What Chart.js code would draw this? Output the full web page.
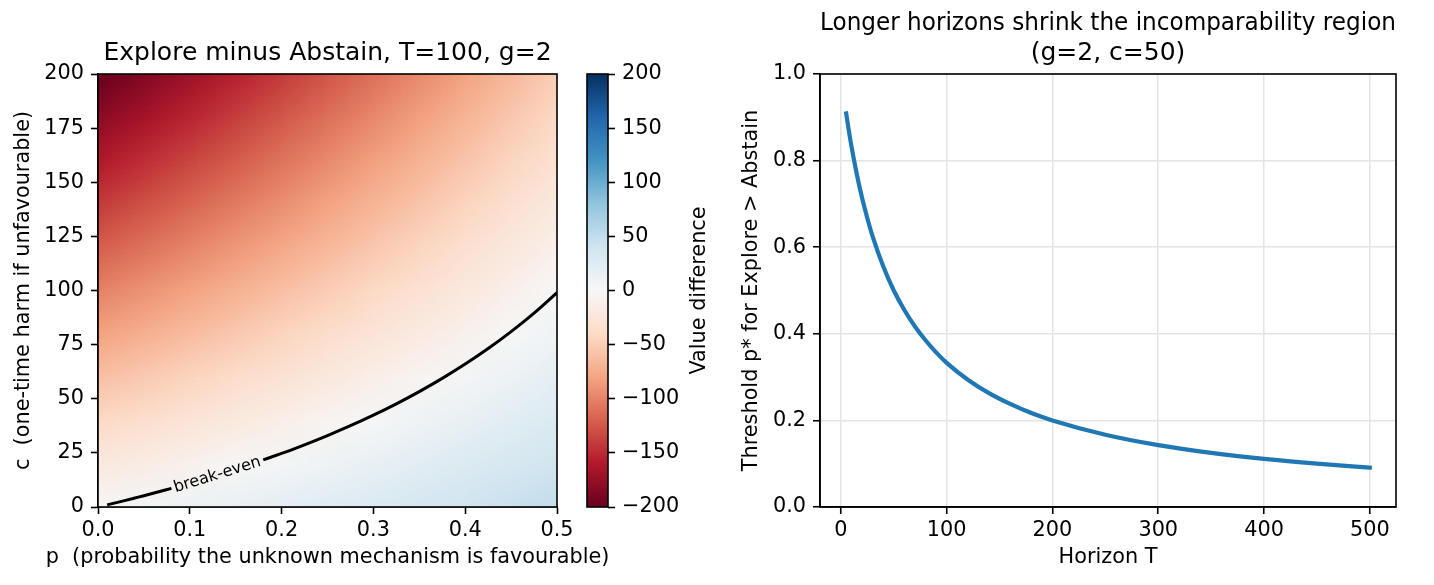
<!DOCTYPE html>
<html><head><meta charset="utf-8">
<script src="https://cdn.jsdelivr.net/npm/chart.js@4.4.1/dist/chart.umd.min.js"></script>
<style>
html,body{margin:0;padding:0;background:#fff;width:1434px;height:585px;overflow:hidden;}
canvas{position:absolute;top:0;}
</style></head><body>
<canvas id="heat" width="640" height="585" style="left:0px;width:640px;height:585px"></canvas>
<canvas id="cbar" width="140" height="585" style="left:580px;width:140px;height:585px"></canvas>
<canvas id="line" width="714" height="585" style="left:720px;width:714px;height:585px"></canvas>
<script>
// ---------- data ----------
const pGrid = [0, 0.05, 0.1, 0.15, 0.2, 0.25, 0.3, 0.35, 0.4, 0.45, 0.5];
const cGrid = [0, 20, 40, 60, 80, 100, 120, 140, 160, 180, 200];
// Explore minus Abstain value difference; one row per c (ascending), one column per p
const diffRows = [
  [0, 5, 10, 15, 20, 25, 30, 35, 40, 45, 50],
  [-20, -14, -8, -2, 4, 10, 16, 22, 28, 34, 40],
  [-40, -33, -26, -19, -12, -5, 2, 9, 16, 23, 30],
  [-60, -52, -44, -36, -28, -20, -12, -4, 4, 12, 20],
  [-80, -71, -62, -53, -44, -35, -26, -17, -8, 1, 10],
  [-100, -90, -80, -70, -60, -50, -40, -30, -20, -10, 0],
  [-120, -109, -98, -87, -76, -65, -54, -43, -32, -21, -10],
  [-140, -128, -116, -104, -92, -80, -68, -56, -44, -32, -20],
  [-160, -147, -134, -121, -108, -95, -82, -69, -56, -43, -30],
  [-180, -166, -152, -138, -124, -110, -96, -82, -68, -54, -40],
  [-200, -185, -170, -155, -140, -125, -110, -95, -80, -65, -50]
];
// break-even contour (gap where the inline label sits)
const breakP = [0.01, 0.02, 0.03, 0.04, 0.05, 0.06, 0.08, 0.13, 0.18, 0.2, 0.22, 0.25, 0.275, 0.3, 0.325, 0.35, 0.375, 0.4, 0.425, 0.45, 0.475, 0.5];
const breakC = [1.0, 2.02, 3.06, 4.13, 5.21, 6.32, 8.61, null, 21.73, 24.75, 27.92, 33.0, 37.55, 42.43, 47.67, 53.31, 59.4, 66.0, 73.17, 81.0, 89.57, 99.0];
const breakLabel = {text: 'break-even', p: 0.13, c: 14.8};

// threshold curve
const horizonT = [5, 7, 10, 15, 20, 25, 30, 40, 50, 60, 70, 80, 90, 100, 120, 140, 160, 180, 200, 250, 300, 350, 400, 450, 500];
const thresholdP = [0.909, 0.877, 0.833, 0.769, 0.714, 0.667, 0.625, 0.556, 0.5, 0.455, 0.417, 0.385, 0.357, 0.333, 0.294, 0.263, 0.238, 0.217, 0.2, 0.167, 0.143, 0.125, 0.111, 0.1, 0.091];

// tick labels
const heatXTicks = [0, 0.1, 0.2, 0.3, 0.4, 0.5];
const heatYTicks = [0, 25, 50, 75, 100, 125, 150, 175, 200];
const cbarTicks = [-200, -150, -100, -50, 0, 50, 100, 150, 200];
const lineXTicks = [0, 100, 200, 300, 400, 500];
const lineYTicks = [0, 0.2, 0.4, 0.6, 0.8, 1.0];

const heatXLabel = 'p  (probability the unknown mechanism is favourable)';

// ---------- styling ----------
const FONT = 'DejaVu Sans';
const FS = 20.8;
Chart.defaults.font.family = FONT;
Chart.defaults.font.size = FS;
Chart.defaults.color = '#000';
Chart.defaults.animation = false;

const VMIN = -200, VMAX = 200;
const RDBU = [[103,0,31],[178,24,43],[214,96,77],[244,165,130],[253,219,199],[247,247,247],[209,229,240],[146,197,222],[67,147,195],[33,102,172],[5,48,97]];
function cmap(v){
  let t = (v - VMIN) / (VMAX - VMIN);
  t = Math.max(0, Math.min(1, t));
  const s = t * 10;
  const i = Math.min(9, Math.floor(s));
  const f = s - i;
  const a = RDBU[i], b = RDBU[i + 1];
  return [a[0] + (b[0] - a[0]) * f, a[1] + (b[1] - a[1]) * f, a[2] + (b[2] - a[2]) * f];
}
const fixTicks = arr => (scale) => { scale.ticks = arr.map(v => ({value: v})); };
const minus = s => String(s).replace('-', '\u2212');

const frame = {
  id: 'frame',
  afterDraw(chart){
    const {ctx, chartArea: a} = chart;
    ctx.save();
    ctx.strokeStyle = '#000';
    ctx.lineWidth = 1.6;
    ctx.strokeRect(a.left, a.top, a.right - a.left, a.bottom - a.top);
    ctx.restore();
  }
};

const heatmap = {
  id: 'heatmap',
  beforeDatasetsDraw(chart){
    const {ctx, chartArea: a, scales: {x, y}} = chart;
    const nx = pGrid.length, ny = cGrid.length;
    const off = document.createElement('canvas');
    off.width = nx; off.height = ny;
    const octx = off.getContext('2d');
    const img = octx.createImageData(nx, ny);
    for (let r = 0; r < ny; r++) {
      const row = diffRows[ny - 1 - r];
      for (let k = 0; k < nx; k++) {
        const col = cmap(row[k]);
        const idx = (r * nx + k) * 4;
        img.data[idx] = Math.round(col[0]);
        img.data[idx + 1] = Math.round(col[1]);
        img.data[idx + 2] = Math.round(col[2]);
        img.data[idx + 3] = 255;
      }
    }
    octx.putImageData(img, 0, 0);
    const dp = (pGrid[1] - pGrid[0]) / 2, dc = (cGrid[1] - cGrid[0]) / 2;
    const x0 = x.getPixelForValue(pGrid[0] - dp), x1 = x.getPixelForValue(pGrid[nx - 1] + dp);
    const y0 = y.getPixelForValue(cGrid[ny - 1] + dc), y1 = y.getPixelForValue(cGrid[0] - dc);
    ctx.save();
    ctx.beginPath();
    ctx.rect(a.left, a.top, a.right - a.left, a.bottom - a.top);
    ctx.clip();
    ctx.imageSmoothingEnabled = true;
    ctx.imageSmoothingQuality = 'low';
    ctx.drawImage(off, x0, y0, x1 - x0, y1 - y0);
    ctx.restore();
  },
  afterDatasetsDraw(chart){
    const {ctx, scales: {x, y}} = chart;
    const i0 = breakC.indexOf(null);
    const ax = x.getPixelForValue(breakP[i0 - 1]), ay = y.getPixelForValue(breakC[i0 - 1]);
    const bx = x.getPixelForValue(breakP[i0 + 1]), by = y.getPixelForValue(breakC[i0 + 1]);
    const ang = Math.atan2(by - ay, bx - ax);
    ctx.save();
    ctx.translate(x.getPixelForValue(breakLabel.p), y.getPixelForValue(breakLabel.c));
    ctx.rotate(ang);
    ctx.font = '16px "DejaVu Sans"';
    ctx.fillStyle = '#000';
    ctx.textAlign = 'center';
    ctx.textBaseline = 'middle';
    ctx.fillText(breakLabel.text, 0, 0);
    ctx.restore();
  },
  afterDraw(chart){
    // x-axis label (wider than the axes, so drawn unconstrained, centred under the axes)
    const {ctx, chartArea: a} = chart;
    ctx.save();
    ctx.font = FS + 'px "DejaVu Sans"';
    ctx.fillStyle = '#000';
    ctx.textAlign = 'center';
    ctx.textBaseline = 'middle';
    ctx.fillText(heatXLabel, (a.left + a.right) / 2, 557.8);
    ctx.restore();
  }
};

const tickGrid = {drawOnChartArea: false, drawTicks: true, tickLength: 7, tickColor: '#000', tickWidth: 1.6};
const border = {display: true, color: '#000', width: 1.6};

// ---------- left: heatmap ----------
new Chart(document.getElementById('heat'), {
  type: 'line',
  data: {
    datasets: [{
      data: breakP.map((p, i) => ({x: p, y: breakC[i]})),
      borderColor: '#000', borderWidth: 3, pointRadius: 0,
      spanGaps: false, cubicInterpolationMode: 'monotone', fill: false
    }]
  },
  options: {
    responsive: false,
    layout: {padding: {left: 0, right: 83, top: 0, bottom: 0}},
    plugins: {
      legend: {display: false}, tooltip: {enabled: false},
      title: {display: true, fullSize: false, text: 'Explore minus Abstain, T=100, g=2', color: '#000',
        font: {size: 25, weight: 'normal', lineHeight: 1.2}, padding: {top: 38, bottom: 6}}
    },
    scales: {
      x: {
        type: 'linear', position: 'bottom', min: 0, max: 0.5,
        afterBuildTicks: fixTicks(heatXTicks),
        afterFit: s => { s.height = 78; },
        ticks: {padding: 4, callback: v => Number(v).toFixed(1), maxRotation: 0, autoSkip: false},
        grid: tickGrid, border: border,
        title: {display: false}
      },
      y: {
        type: 'linear', position: 'left', min: 0, max: 200,
        afterBuildTicks: fixTicks(heatYTicks),
        afterFit: s => { s.width = 98; },
        ticks: {padding: 7, autoSkip: false},
        grid: tickGrid, border: border,
        title: {display: true, text: 'c  (one-time harm if unfavourable)', padding: {top: 11, bottom: 0}}
      }
    }
  },
  plugins: [heatmap, frame]
});

// ---------- colorbar ----------
const colorbar = {
  id: 'colorbar',
  beforeDatasetsDraw(chart){
    const {ctx, chartArea: a, scales: {y}} = chart;
    const g = ctx.createLinearGradient(0, y.getPixelForValue(VMIN), 0, y.getPixelForValue(VMAX));
    RDBU.forEach((c, i) => g.addColorStop(i / (RDBU.length - 1), `rgb(${c[0]},${c[1]},${c[2]})`));
    ctx.save();
    ctx.fillStyle = g;
    ctx.fillRect(a.left, a.top, a.right - a.left, a.bottom - a.top);
    ctx.restore();
  },
  afterDraw(chart){
    const {ctx, chartArea: a} = chart;
    ctx.save();
    ctx.font = FS + 'px "DejaVu Sans"';
    ctx.fillStyle = '#000';
    ctx.textAlign = 'center';
    ctx.textBaseline = 'alphabetic';
    ctx.translate(125, (a.top + a.bottom) / 2);
    ctx.rotate(-Math.PI / 2);
    ctx.fillText('Value difference', 0, 0);
    ctx.restore();
  }
};
new Chart(document.getElementById('cbar'), {
  type: 'scatter',
  data: {datasets: [{data: []}]},
  options: {
    responsive: false,
    layout: {padding: {left: 7, right: 0, top: 74, bottom: 78}},
    plugins: {legend: {display: false}, tooltip: {enabled: false}},
    scales: {
      x: {display: false},
      y: {
        type: 'linear', position: 'right', min: VMIN, max: VMAX,
        afterBuildTicks: fixTicks(cbarTicks),
        afterFit: s => { s.width = 112; },
        ticks: {padding: 7, autoSkip: false, callback: v => minus(v)},
        grid: tickGrid, border: {display: false}
      }
    }
  },
  plugins: [colorbar, frame]
});

// ---------- right: threshold vs horizon ----------
new Chart(document.getElementById('line'), {
  type: 'line',
  data: {
    datasets: [{
      data: horizonT.map((t, i) => ({x: t, y: thresholdP[i]})),
      borderColor: '#1f77b4', borderWidth: 4.2, pointRadius: 0,
      cubicInterpolationMode: 'monotone', fill: false, borderCapStyle: 'square'
    }]
  },
  options: {
    responsive: false,
    layout: {padding: {left: 0, right: 38, top: 0, bottom: 0}},
    plugins: {
      legend: {display: false}, tooltip: {enabled: false},
      title: {display: true, fullSize: false,
        text: ['Longer horizons shrink the incomparability region', '(g=2, c=50)'], color: '#000',
        font: {size: 25, weight: 'normal', lineHeight: 1.2}, padding: {top: 8, bottom: 6}}
    },
    scales: {
      x: {
        type: 'linear', position: 'bottom', min: -19.75, max: 524.75,
        afterBuildTicks: fixTicks(lineXTicks),
        afterFit: s => { s.height = 78; },
        ticks: {padding: 4, maxRotation: 0, autoSkip: false},
        grid: {drawOnChartArea: true, color: '#e4e4e4', lineWidth: 1.5, drawTicks: true, tickLength: 7, tickColor: '#000', tickWidth: 1.6},
        border: border,
        title: {display: true, text: 'Horizon T', padding: {top: 0, bottom: 14.7}}
      },
      y: {
        type: 'linear', position: 'left', min: 0, max: 1,
        afterBuildTicks: fixTicks(lineYTicks),
        afterFit: s => { s.width = 100; },
        ticks: {padding: 7, autoSkip: false, callback: v => Number(v).toFixed(1)},
        grid: {drawOnChartArea: true, color: '#e4e4e4', lineWidth: 1.5, drawTicks: true, tickLength: 7, tickColor: '#000', tickWidth: 1.6},
        border: border,
        title: {display: true, text: 'Threshold p* for Explore > Abstain', padding: {top: 19.3, bottom: 0}}
      }
    }
  },
  plugins: [frame]
});
</script>
</body></html>
